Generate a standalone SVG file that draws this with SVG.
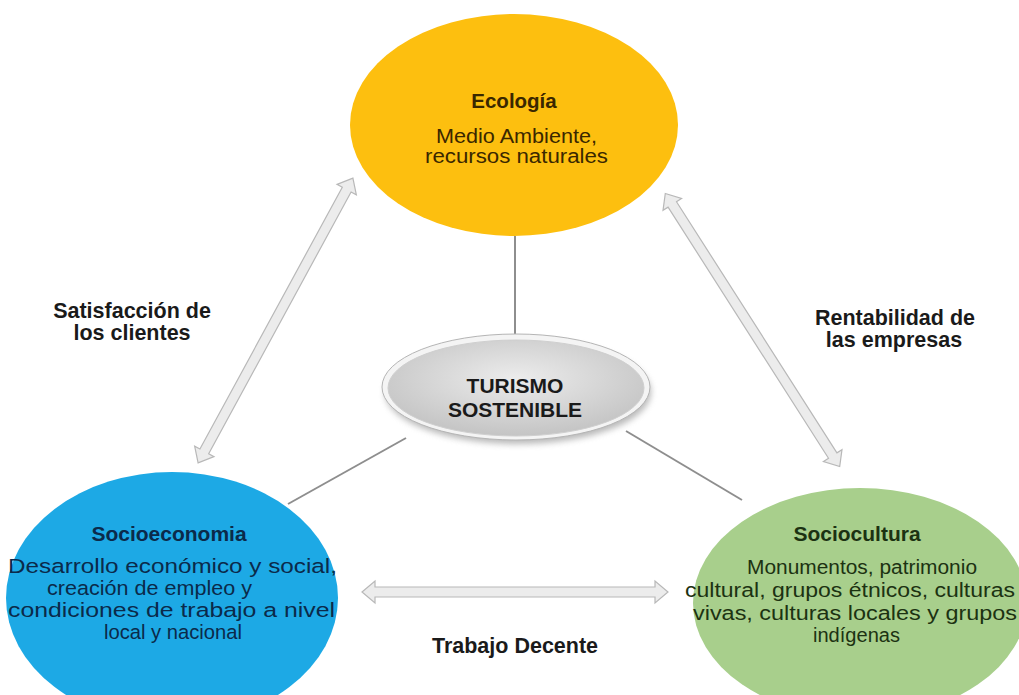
<svg xmlns="http://www.w3.org/2000/svg" xmlns:xlink="http://www.w3.org/1999/xlink" width="1019" height="695" viewBox="0 0 1019 695">
<style>
.b{font-family:"Liberation Sans",Arial,sans-serif;font-weight:bold;text-anchor:middle;}
.r{font-family:"Liberation Sans",Arial,sans-serif;}
.lbl{fill:#1a1a1a;font-size:21.5px;}
.conn{stroke:#8e8e8e;stroke-width:2;fill:none;}
.barrow{fill:#ececec;stroke:#b8b8b8;stroke-width:1.2;}
</style>
<defs>
<radialGradient id="gc" cx="50%" cy="40%" r="60%">
<stop offset="0" stop-color="#ececec"/>
<stop offset="1" stop-color="#c4c4c4"/>
</radialGradient>
<filter id="sh" x="-20%" y="-30%" width="140%" height="170%">
<feGaussianBlur stdDeviation="3"/>
</filter>
<path id="da" d="M -162 0 L -149 -11 L -149 -5 L 149 -5 L 149 -11 L 162 0 L 149 11 L 149 5 L -149 5 L -149 11 Z"/>
</defs>
<rect width="1019" height="695" fill="#ffffff"/>

<g id="connectors">
<line class="conn" x1="515" y1="236" x2="515" y2="335"/>
<line class="conn" x1="406" y1="438" x2="288" y2="504"/>
<line class="conn" x1="626" y1="431" x2="742" y2="500"/>
<use xlink:href="#da" class="barrow" transform="translate(275.5 320.5) rotate(-61.46)"/>
<use xlink:href="#da" class="barrow" transform="translate(752.5 330) rotate(57.43)"/>
<path class="barrow" d="M 362 592 L 375 581 L 375 587 L 655 587 L 655 581 L 668 592 L 655 603 L 655 597 L 375 597 L 375 603 Z"/>
</g>

<g id="ecologia">
<ellipse cx="514" cy="125" rx="164" ry="111" fill="#FDBF0F"/>
<text class="b" x="514" y="108" font-size="20.5" fill="#3a2700">Ecología</text>
<text class="r" x="436" y="143" font-size="19.5" fill="#3a2700" textLength="161" lengthAdjust="spacingAndGlyphs">Medio Ambiente,</text>
<text class="r" x="425" y="163" font-size="19.5" fill="#3a2700" textLength="183" lengthAdjust="spacingAndGlyphs">recursos naturales</text>
</g>

<g id="socioeconomia">
<ellipse cx="172" cy="598" rx="166" ry="126" fill="#1DA9E5"/>
<text class="b" x="169" y="541" font-size="21" fill="#0b2a4a">Socioeconomia</text>
<text class="r" x="8" y="573" font-size="20.5" fill="#0b2a4a" textLength="329" lengthAdjust="spacingAndGlyphs">Desarrollo económico y social,</text>
<text class="r" x="47" y="595" font-size="20.5" fill="#0b2a4a" textLength="205" lengthAdjust="spacingAndGlyphs">creación de empleo y</text>
<text class="r" x="8" y="617" font-size="20.5" fill="#0b2a4a" textLength="327" lengthAdjust="spacingAndGlyphs">condiciones de trabajo a nivel</text>
<text class="r" x="104" y="639" font-size="20.5" fill="#0b2a4a" textLength="138" lengthAdjust="spacingAndGlyphs">local y nacional</text>
</g>

<g id="sociocultura">
<ellipse cx="860" cy="603" rx="167" ry="115" fill="#A8CF8C"/>
<text class="b" x="857" y="541" font-size="21" fill="#1c3212">Sociocultura</text>
<text class="r" x="747" y="574" font-size="20" fill="#1c3212" textLength="230" lengthAdjust="spacingAndGlyphs">Monumentos, patrimonio</text>
<text class="r" x="685" y="597" font-size="20" fill="#1c3212" textLength="330" lengthAdjust="spacingAndGlyphs">cultural, grupos étnicos, culturas</text>
<text class="r" x="693" y="620" font-size="20" fill="#1c3212" textLength="324" lengthAdjust="spacingAndGlyphs">vivas, culturas locales y grupos</text>
<text class="r" x="813" y="642" font-size="20" fill="#1c3212" textLength="87" lengthAdjust="spacingAndGlyphs">indígenas</text>
</g>

<g id="turismo">
<ellipse cx="518" cy="392" rx="133" ry="52" fill="#8a8a8a" opacity="0.6" filter="url(#sh)"/>
<ellipse cx="516" cy="387" rx="134" ry="53" fill="#f4f4f4" stroke="#b5b5b5" stroke-width="1"/>
<ellipse cx="516" cy="388" rx="128" ry="48" fill="url(#gc)" stroke="#cfcfcf" stroke-width="1"/>
<text class="b" x="515" y="393" font-size="21" fill="#1a1a1a">TURISMO</text>
<text class="b" x="515" y="417" font-size="21" fill="#1a1a1a">SOSTENIBLE</text>
</g>

<g id="labels">
<text class="b lbl" x="132" y="318">Satisfacción de</text>
<text class="b lbl" x="132" y="340">los clientes</text>
<text class="b lbl" x="895" y="325">Rentabilidad de</text>
<text class="b lbl" x="894" y="347">las empresas</text>
<text class="b lbl" x="515" y="653">Trabajo Decente</text>
</g>
</svg>
